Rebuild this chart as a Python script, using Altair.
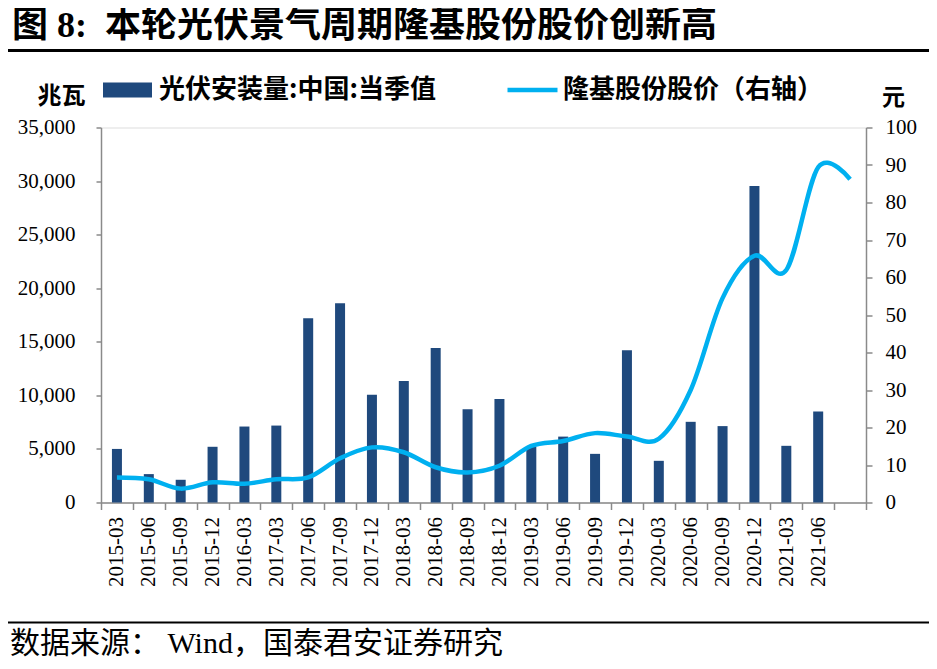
import altair as alt
import pandas as pd

quarters = ["2015-03", "2015-06", "2015-09", "2015-12", "2016-03", "2017-03",
            "2017-06", "2017-09", "2017-12", "2018-03", "2018-06", "2018-09",
            "2018-12", "2019-03", "2019-06", "2019-09", "2019-12", "2020-03",
            "2020-06", "2020-09", "2020-12", "2021-03", "2021-06", "2021-09"]
install_mw = [5000, 2650, 2120, 5200, 7090, 7180, 17200, 18600, 10050, 11350,
              14430, 8710, 9670, 5200, 6150, 4540, 14200, 3890, 7530, 7130,
              29540, 5290, 8490, None]
price_yuan = [6.7, 6.2, 3.7, 5.4, 5.0, 6.2, 6.7, 11.8, 14.7, 13.4, 9.4, 8.0,
              9.8, 15.1, 16.4, 18.5, 17.6, 17.0, 30.0, 54.5, 65.8, 62.0, 89.4, 86.2]

bar_name = "光伏安装量:中国:当季值"
line_name = "隆基股份股价（右轴）"
title_text = "图 8:\u00a0\u00a0本轮光伏景气周期隆基股份股价创新高"
source_text = "数据来源：  Wind，国泰君安证券研究"
left_unit = "兆瓦"
right_unit = "元"

df = pd.DataFrame({
    "quarter": quarters,
    "install": install_mw,
    "price": price_yuan,
    "bar_name": [bar_name] * len(quarters),
    "line_name": [line_name] * len(quarters),
})

SERIF = "Liberation Serif, Noto Sans CJK SC"
CJK = "Noto Sans CJK SC"
GRAY = "#8a8a8a"

x_enc = alt.X(
    "quarter:N",
    sort=quarters,
    scale=alt.Scale(paddingInner=0, paddingOuter=0),
    axis=alt.Axis(
        title=None, labelAngle=270, labelAlign="right", labelBaseline="middle",
        labelFont="Liberation Serif", labelFontSize=21, labelColor="black",
        labelPadding=7, tickBand="extent", tickSize=7, tickColor=GRAY,
        domainColor=GRAY, domainWidth=1.5, tickWidth=1.5,
        labelExpr="datum.value == '2021-09' ? '' : datum.label",
    ),
)

bars = alt.Chart(df).mark_bar(size=10).encode(
    x=x_enc,
    y=alt.Y(
        "install:Q",
        scale=alt.Scale(domain=[0, 35000], nice=False),
        axis=alt.Axis(
            title=left_unit, titleAngle=0, titleX=-40, titleY=-31,
            titleAlign="center", titleBaseline="middle", titleFont=CJK,
            titleFontSize=24, titleFontWeight="bold", titleColor="black",
            values=list(range(0, 35001, 5000)), format=",d",
            labelFont="Liberation Serif", labelFontSize=21, labelColor="black",
            labelPadding=21, tickSize=5, tickColor=GRAY, domainColor=GRAY,
            domainWidth=1.5, tickWidth=1.5, grid=False,
        ),
    ),
    color=alt.Color(
        "bar_name:N",
        scale=alt.Scale(range=["#1F497D"]),
        legend=alt.Legend(
            title=None, orient="none", legendX=13.5, legendY=-50.5, padding=0,
            symbolType="M-2.45,-0.75L2.45,-0.75L2.45,0.75L-2.45,0.75Z",
            symbolSize=400, symbolStrokeWidth=0, symbolOpacity=1,
            labelFont=CJK, labelFontSize=26, labelFontWeight="bold",
            labelColor="black", labelOffset=18.5, labelLimit=0,
        ),
    ),
)

line = alt.Chart(df).mark_line(interpolate="cardinal", strokeWidth=4.5).encode(
    x=x_enc,
    y=alt.Y(
        "price:Q",
        scale=alt.Scale(domain=[0, 100], nice=False),
        axis=alt.Axis(
            orient="right", title=right_unit, titleAngle=0, titleX=27,
            titleY=-30, titleAlign="center", titleBaseline="middle",
            titleFont=CJK, titleFontSize=23, titleFontWeight="bold",
            titleColor="black", values=list(range(0, 101, 10)),
            labelFont="Liberation Serif", labelFontSize=21, labelColor="black",
            labelPadding=13, tickSize=6, tickColor=GRAY, domainColor=GRAY,
            domainWidth=1.5, tickWidth=1.5, grid=False,
        ),
    ),
    stroke=alt.Stroke(
        "line_name:N",
        scale=alt.Scale(range=["#00B0F0"]),
        legend=alt.Legend(
            title=None, orient="none", legendX=404, legendY=-65, padding=0,
            symbolType="M-1,0L1,0", symbolSize=2500, symbolStrokeWidth=4.5,
            symbolOpacity=1, labelFont=CJK, labelFontSize=26,
            labelFontWeight="bold", labelColor="black", labelOffset=3,
            labelLimit=0,
        ),
    ),
)

one = pd.DataFrame({"k": [0]})
top_rule = alt.Chart(one).mark_rule(color="black", strokeWidth=3).encode(
    x=alt.value(-101), x2=alt.value(836), y=alt.value(-77)
)
bottom_rule = alt.Chart(one).mark_rule(color="black", strokeWidth=2).encode(
    x=alt.value(-101), x2=alt.value(836), y=alt.value(495)
)
title = alt.Chart(one).mark_text(
    align="left", baseline="middle", font=SERIF, fontSize=36,
    fontWeight="bold", color="black"
).encode(x=alt.value(-89), y=alt.value(-102), text=alt.value(title_text))
source = alt.Chart(one).mark_text(
    align="left", baseline="middle", font=SERIF, fontSize=30, color="black"
).encode(x=alt.value(-91), y=alt.value(516), text=alt.value(source_text))

chart = alt.layer(bars, line, top_rule, bottom_rule, title, source).resolve_scale(
    y="independent"
).properties(
    width=765,
    height=375,
    autosize=alt.AutoSizeParams(type="none"),
    padding={"left": 93, "top": 119.5, "right": 63, "bottom": 158},
).configure_view(stroke=None).configure(background="white")

chart.save("out.html", embed_options={"renderer": "svg", "actions": False})
